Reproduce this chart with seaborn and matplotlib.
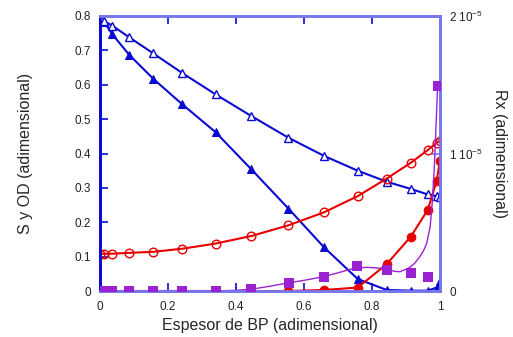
import matplotlib
matplotlib.use("Agg")
import matplotlib.pyplot as plt
import seaborn as sns
import pandas as pd

# ---- data ----
x_grid = [0, 0.012, 0.036, 0.086, 0.157, 0.242, 0.34, 0.445, 0.554, 0.659,
          0.758, 0.843, 0.914, 0.964, 0.99, 1.0]
s_open = [0.796, 0.785, 0.772, 0.738, 0.691, 0.634, 0.572, 0.509, 0.446, 0.393,
          0.350, 0.318, 0.297, 0.281, 0.276, 0.274]
s_filled = [0.790, 0.783, 0.747, 0.687, 0.617, 0.543, 0.462, 0.354, 0.240, 0.127,
            0.035, 0.003, 0.001, 0.001, 0.010, 0.029]
od_open = [0.1085, 0.1085, 0.1085, 0.111, 0.114, 0.123, 0.138, 0.160, 0.191, 0.229,
           0.276, 0.327, 0.373, 0.410, 0.431, 0.437]
od_filled = [0, 0, 0, 0, 0, 0, 0, 0, 0, 0.003,
             0.010, 0.078, 0.158, 0.236, 0.320, 0.379]

rx_x = [0, 0.012, 0.036, 0.086, 0.157, 0.242, 0.34, 0.445, 0.556, 0.659,
        0.757, 0.843, 0.914, 0.964, 0.993]
rx_pts = [0, 0, 0, 0, 0, 0, 0, 0.18e-6, 0.60e-6, 1.00e-6,
          1.83e-6, 1.53e-6, 1.28e-6, 1.05e-6, 14.9e-6]

rx_line_x = [0, 0.34, 0.40, 0.445, 0.5, 0.556, 0.6, 0.659, 0.7, 0.74, 0.784,
             0.828, 0.868, 0.882, 0.907, 0.925, 0.941, 0.952, 0.961, 0.971,
             0.977, 0.983, 0.987, 0.991, 0.993]
rx_line = [0, 0, 0.05e-6, 0.125e-6, 0.35e-6, 0.6e-6, 0.775e-6, 1.05e-6, 1.325e-6,
           1.6e-6, 1.725e-6, 1.65e-6, 1.425e-6, 1.4e-6, 1.65e-6, 2.0e-6, 2.5e-6,
           2.95e-6, 3.475e-6, 4.675e-6, 6.375e-6, 8.8e-6, 11.225e-6, 13.65e-6,
           14.85e-6]

x_ticks = [0, 0.2, 0.4, 0.6, 0.8, 1.0]
x_tick_labels = ["0", "0.2", "0.4", "0.6", "0.8", "1"]
y_ticks = [0, 0.1, 0.2, 0.3, 0.4, 0.5, 0.6, 0.7, 0.8]
y_tick_labels = ["0", "0.1", "0.2", "0.3", "0.4", "0.5", "0.6", "0.7", "0.8"]
r_ticks = [0, 1e-5, 2e-5]
r_tick_labels = ["0", "1 10$^{-5}$", "2 10$^{-5}$"]

# ---- style ----
sns.set_style("white")
plt.rcParams["font.family"] = ["Liberation Sans", "DejaVu Sans"]
plt.rcParams["mathtext.fontset"] = "custom"
plt.rcParams["mathtext.rm"] = "Liberation Sans"

BLUE = "#0a0ad2"
LIGHT = "#7878ee"
RED = "#e80000"
PURPLE = "#9a22d0"

fig = plt.figure(figsize=(5.13, 3.37), dpi=100)
ax = fig.add_axes([100 / 513, 1 - 291 / 337, 340 / 513, 275 / 337])

main = pd.DataFrame({"x": x_grid, "s_open": s_open, "s_filled": s_filled,
                     "od_open": od_open, "od_filled": od_filled})

lw = 1.5
ms = 6.2
sns.lineplot(data=main, x="x", y="s_filled", ax=ax, color=BLUE, lw=lw,
             marker="^", markersize=ms, markerfacecolor=BLUE, markeredgecolor=BLUE,
             estimator=None, sort=False, zorder=3)
sns.lineplot(data=main, x="x", y="s_open", ax=ax, color=BLUE, lw=lw,
             marker="^", markersize=ms, markerfacecolor="white", markeredgecolor=BLUE,
             markeredgewidth=1.0, estimator=None, sort=False, zorder=3)
sns.lineplot(data=main, x="x", y="od_filled", ax=ax, color=RED, lw=lw,
             marker="o", markersize=ms, markerfacecolor=RED, markeredgecolor=RED,
             estimator=None, sort=False, zorder=3)
sns.lineplot(data=main, x="x", y="od_open", ax=ax, color=RED, lw=lw,
             marker="o", markersize=ms, markerfacecolor="none", markeredgecolor=RED,
             markeredgewidth=1.0, estimator=None, sort=False, zorder=3)

ax.set_xlim(0, 1)
ax.set_ylim(0, 0.8)
ax.set_xticks(x_ticks)
ax.set_xticklabels(x_tick_labels)
ax.set_yticks(y_ticks)
ax.set_yticklabels(y_tick_labels)
ax.tick_params(axis="both", direction="in", length=6, width=1.2, colors=BLUE,
               labelcolor="#222222", labelsize=8.5, pad=6.5)
ax.tick_params(axis="x", top=True, bottom=True, pad=7)
ax.set_xlabel("Espesor de BP (adimensional)", fontsize=11.5, labelpad=4)
ax.set_ylabel("S y OD (adimensional)", fontsize=11.5, labelpad=30)

ax2 = ax.twinx()
ax2.set_position(ax.get_position())
line_df = pd.DataFrame({"x": rx_line_x, "rx": rx_line})
pts_df = pd.DataFrame({"x": rx_x, "rx": rx_pts})
sns.lineplot(data=line_df, x="x", y="rx", ax=ax2, color=PURPLE, lw=1.0,
             estimator=None, sort=False)
sns.scatterplot(data=pts_df, x="x", y="rx", ax=ax2, color=PURPLE, marker="s",
                s=50, edgecolor=PURPLE, linewidth=0, zorder=4)
ax2.set_ylim(0, 2e-5)
ax2.set_yticks(r_ticks)
ax2.set_yticklabels(r_tick_labels)
ax2.tick_params(axis="y", direction="in", length=6, width=1.2, colors=LIGHT,
                labelcolor="#222222", labelsize=8.5, pad=6.5)
ax2.set_ylabel("Rx (adimensional)", fontsize=11.5, rotation=270, labelpad=17)
ax2.set_xlabel("")

for a in (ax, ax2):
    for side in ("top", "right", "bottom"):
        a.spines[side].set_color(LIGHT)
        a.spines[side].set_linewidth(2.0)
    a.spines["left"].set_color(BLUE)
    a.spines["left"].set_linewidth(2.0)
    a.spines["left"].set_visible(True)
    a.spines["right"].set_visible(True)
    a.spines["top"].set_visible(True)

fig.savefig("out.png", dpi=100)
